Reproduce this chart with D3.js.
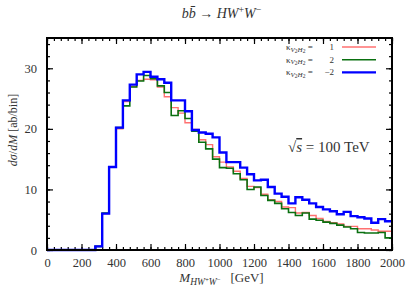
<!DOCTYPE html>
<html>
<head>
<meta charset="utf-8">
<script src="https://cdnjs.cloudflare.com/ajax/libs/d3/7.8.5/d3.min.js"></script>
<style>
  body { margin: 0; background: #fff; }
  svg text { font-family: "Liberation Serif", "DejaVu Serif", serif; fill: #333; }
</style>
</head>
<body>
<div id="chart"></div>
<script>
// bins of 40 GeV, lower edges 0 .. 1960
var binEdges = d3.range(0, 2000, 40);

var kappa1 = [0, 0, 0, 0, 0, 0, 0, 0.6, 6.0, 13.7, 20.0, 24.5, 27.0, 28.0, 28.2, 28.1,
  26.9, 25.3, 23.5, 22.6, 21.0, 19.9, 18.2, 17.4, 15.4, 14.5, 13.7, 13.0, 11.8, 10.5,
  10.3, 9.2, 8.3, 8.0, 7.1, 7.0, 6.1, 6.2, 5.7, 5.2, 4.7, 4.5, 4.3, 3.9, 3.9, 3.5,
  3.5, 3.3, 3.1, 3.1];

var kappa2 = [0, 0, 0, 0, 0, 0, 0, 0.6, 6.1, 13.7, 20.2, 23.8, 26.9, 27.9, 28.8, 28.3,
  27.1, 26.0, 22.2, 23.0, 21.7, 19.6, 17.8, 16.7, 15.0, 13.6, 13.5, 12.6, 11.6, 10.0,
  10.4, 9.0, 8.2, 7.7, 6.8, 6.2, 5.7, 6.1, 5.1, 4.9, 4.6, 4.4, 4.1, 3.8, 3.5, 2.9,
  2.8, 2.8, 2.9, 2.0];

var kappaM2 = [0, 0, 0, 0, 0, 0, 0, 0.6, 6.0, 13.7, 20.2, 24.7, 27.3, 29.0, 29.4, 28.6,
  28.2, 27.6, 24.7, 24.7, 22.9, 19.8, 19.4, 19.2, 18.6, 16.1, 14.5, 14.5, 13.6, 12.5,
  11.5, 11.6, 10.4, 9.3, 8.8, 7.7, 8.7, 8.3, 7.7, 7.1, 6.7, 6.4, 5.9, 6.3, 5.6, 5.4,
  5.2, 4.5, 5.1, 4.75];

var seriesNames = ["1", "2", "\u22122"];
var seriesColors = ["#ff7070", "#0a7010", "#0000ff"];
var seriesWidths = [1.4, 1.6, 2.4];
var xTicks = d3.range(0, 2001, 200);
var yTicks = [0, 10, 20, 30];

var margin = {top: 38, right: 23, bottom: 41, left: 47},
    width = 415 - margin.left - margin.right,
    height = 291 - margin.top - margin.bottom;

var x = d3.scaleLinear().domain([0, 2000]).range([0, width]);
var y = d3.scaleLinear().domain([0, 35]).range([height, 0]);

var svg = d3.select("#chart").append("svg")
    .attr("width", 415)
    .attr("height", 291)
  .append("g")
    .attr("transform", "translate(" + margin.left + "," + margin.top + ")");

// minor ticks
function minorAxis(axis, scale, vals) {
  return axis(scale).tickValues(vals).tickSize(-3).tickFormat("");
}
var xMinor = d3.range(0, 2001, 40), yMinor = d3.range(0, 35, 2);

svg.append("g").attr("class", "axis").attr("transform", "translate(0," + height + ")")
  .call(minorAxis(d3.axisBottom, x, xMinor));
svg.append("g").attr("class", "axis")
  .call(d3.axisTop(x).tickValues(xMinor).tickSize(-3).tickFormat(""));
svg.append("g").attr("class", "axis")
  .call(minorAxis(d3.axisLeft, y, yMinor));
svg.append("g").attr("class", "axis").attr("transform", "translate(" + width + ",0)")
  .call(d3.axisRight(y).tickValues(yMinor).tickSize(-3).tickFormat(""));

// major ticks
svg.append("g").attr("class", "axis xmaj").attr("transform", "translate(0," + height + ")")
  .call(d3.axisBottom(x).tickValues(xTicks).tickSize(-6).tickPadding(8).tickFormat(d3.format("d")));
svg.append("g").attr("class", "axis")
  .call(d3.axisTop(x).tickValues(xTicks).tickSize(-6).tickFormat(""));
svg.append("g").attr("class", "axis ymaj")
  .call(d3.axisLeft(y).tickValues(yTicks).tickSize(-6).tickPadding(10).tickFormat(d3.format("d")));
svg.append("g").attr("class", "axis").attr("transform", "translate(" + width + ",0)")
  .call(d3.axisRight(y).tickValues(yTicks).tickSize(-6).tickFormat(""));

svg.selectAll(".axis .domain").remove();
svg.selectAll(".axis line").attr("stroke", "#000").attr("stroke-width", 1.2);
svg.selectAll(".xmaj text, .ymaj text").attr("font-size", "12.5px").attr("fill", "#333");

// histograms
var line = d3.line()
    .x(function(d) { return x(d[0]); })
    .y(function(d) { return y(d[1]); })
    .curve(d3.curveStepAfter);

[kappa1, kappa2, kappaM2].forEach(function(vals, i) {
  var pts = binEdges.map(function(e, j) { return [e, vals[j]]; });
  pts.push([2000, vals[vals.length - 1]]);
  svg.append("path")
    .datum(pts)
    .attr("fill", "none")
    .attr("stroke", seriesColors[i])
    .attr("stroke-width", seriesWidths[i])
    .attr("d", line);
});

// frame
svg.append("rect")
    .attr("width", width)
    .attr("height", height)
    .attr("fill", "none")
    .attr("stroke", "#000")
    .attr("stroke-width", 2);

// legend
var legend = svg.append("g").attr("transform", "translate(" + (width - 106) + ",9)");
seriesNames.forEach(function(name, i) {
  var g = legend.append("g").attr("transform", "translate(0," + (i * 12.7) + ")");
  var t = g.append("text").attr("y", 3).attr("font-size", "9px").attr("fill", "#777");
  t.append("tspan").text("\u03ba");
  t.append("tspan").attr("font-size", "7px").attr("font-style", "italic").attr("dy", 1.5).text("V");
  t.append("tspan").attr("font-size", "5.5px").attr("dy", 1).text("2");
  t.append("tspan").attr("font-size", "7px").attr("font-style", "italic").attr("dy", -1).text("H");
  t.append("tspan").attr("font-size", "5.5px").attr("dy", 1).text("2");
  t.append("tspan").attr("dy", -2.5).text(" = ");
  g.append("text").attr("x", 48).attr("y", 3).attr("text-anchor", "end")
    .attr("font-size", "9px").attr("fill", "#777").text(name);
  g.append("line")
    .attr("x1", 56).attr("x2", 90)
    .attr("stroke", seriesColors[i])
    .attr("stroke-width", seriesWidths[i]);
});

// sqrt(s) annotation
var sq = svg.append("text").attr("x", 241).attr("y", 114).attr("font-size", "15px").attr("fill", "#333");
sq.append("tspan").text("\u221a");
sq.append("tspan").attr("font-style", "italic").attr("text-decoration", "overline").text("s");
sq.append("tspan").text(" = 100 TeV");

// title
var title = svg.append("text").attr("x", width / 2 + 2).attr("y", -20)
    .attr("text-anchor", "middle").attr("font-size", "14px").attr("fill", "#444");
title.append("tspan").attr("font-style", "italic").text("b");
title.append("tspan").attr("font-style", "italic").text("b\u0304");
title.append("tspan").text(" \u2192 ");
title.append("tspan").attr("font-style", "italic").text("HW");
title.append("tspan").attr("font-size", "10px").attr("dy", -5).text("+");
title.append("tspan").attr("font-style", "italic").attr("dy", 5).text("W");
title.append("tspan").attr("font-size", "10px").attr("dy", -5).text("\u2212");

// axis labels
var xl = svg.append("text").attr("x", width / 2 + 2).attr("y", height + 32)
    .attr("text-anchor", "middle").attr("font-size", "13px").attr("fill", "#333");
xl.append("tspan").attr("font-style", "italic").text("M");
xl.append("tspan").attr("font-style", "italic").attr("font-size", "9.5px").attr("dy", 3).text("HW");
xl.append("tspan").attr("font-size", "7px").attr("dy", -3).text("+");
xl.append("tspan").attr("font-style", "italic").attr("font-size", "9.5px").attr("dy", 3).text("W");
xl.append("tspan").attr("font-size", "7px").attr("dy", -3).text("\u2212");
xl.append("tspan").attr("dy", -0.5).text("\u2002 [GeV]");

var yl = svg.append("text")
    .attr("transform", "translate(-30," + (height / 2 - 14) + ") rotate(-90)")
    .attr("text-anchor", "middle").attr("font-size", "12px").attr("fill", "#333");
yl.append("tspan").attr("font-style", "italic").text("d\u03c3");
yl.append("tspan").text("/");
yl.append("tspan").attr("font-style", "italic").text("dM");
yl.append("tspan").text(" [ab/bin]");
</script>
</body>
</html>
